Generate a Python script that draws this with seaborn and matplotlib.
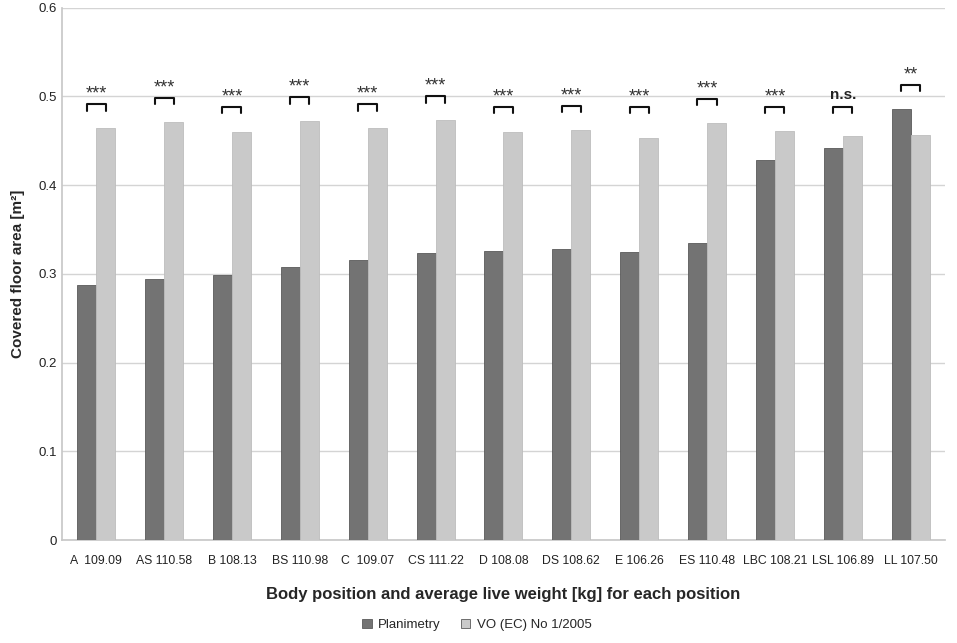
import pandas as pd
import matplotlib
matplotlib.use("Agg")
import matplotlib.pyplot as plt
import seaborn as sns

posiciones = ["A  109.09", "AS 110.58", "B 108.13", "BS 110.98", "C  109.07", "CS 111.22",
              "D 108.08", "DS 108.62", "E 106.26", "ES 110.48", "LBC 108.21", "LSL 106.89",
              "LL 107.50"]
planimetria = [0.288, 0.294, 0.299, 0.308, 0.316, 0.324, 0.326, 0.328, 0.325, 0.335,
               0.428, 0.442, 0.486]
vo_ec = [0.464, 0.471, 0.460, 0.472, 0.464, 0.473, 0.460, 0.462, 0.453, 0.470,
         0.461, 0.455, 0.457]
signif = ["***", "***", "***", "***", "***", "***", "***", "***", "***", "***", "***",
          "n.s.", "**"]
series = ["Planimetry", "VO (EC) No 1/2005"]

df = pd.DataFrame({
    "pos": posiciones * 2,
    "serie": [series[0]] * len(posiciones) + [series[1]] * len(posiciones),
    "area": planimetria + vo_ec,
})

sns.set_theme(style="white")
plt.rcParams["font.family"] = ["Liberation Sans", "DejaVu Sans"]

fig = plt.figure(figsize=(9.57, 6.43), dpi=100)
ax = fig.add_axes([0.065, 0.160, 0.922, 0.828])

sns.barplot(data=df, x="pos", y="area", hue="serie", palette=["#737373", "#c9c9c9"],
            width=0.56, saturation=1, edgecolor="#5a5a5a", linewidth=0.6, ax=ax, zorder=3)
for bar in ax.patches[len(posiciones):2 * len(posiciones)]:
    bar.set_edgecolor("#bdbdbd")

ax.set_ylim(0, 0.6)
ax.set_yticks([0, 0.1, 0.2, 0.3, 0.4, 0.5, 0.6])
ax.set_yticklabels(["0", "0.1", "0.2", "0.3", "0.4", "0.5", "0.6"])
ax.yaxis.grid(True, color="#d4d4d4", linewidth=1, zorder=0)
ax.set_axisbelow(True)
for s in ["top", "right"]:
    ax.spines[s].set_visible(False)
ax.spines["left"].set_color("#c8c8c8")
ax.spines["bottom"].set_color("#c8c8c8")
ax.tick_params(axis="both", length=0, colors="#222222")
ax.tick_params(axis="y", labelsize=9.5)
ax.tick_params(axis="x", labelsize=8.8, pad=11)
for t in ax.get_xticklabels():
    t.set_fontstretch("condensed")
ax.set_xlim(-0.5, len(posiciones) - 0.5)

# corchetes de significancia
off = 0.56 / 4
for i, (p, v, s) in enumerate(zip(planimetria, vo_ec, signif)):
    h = max(0.488, max(p, v) + 0.027)
    ax.plot([i - off, i - off, i + off, i + off], [h - 0.007, h, h, h - 0.007],
            color="#111111", linewidth=1.5, zorder=4)
    if s == "n.s.":
        ax.text(i, h + 0.006, s, ha="center", va="bottom", fontsize=11,
                fontweight="bold", color="#222222")
    else:
        ax.text(i, h + 0.002, s, ha="center", va="bottom", fontsize=13, color="#333333")

ax.set_xlabel("Body position and average live weight [kg] for each position",
              fontsize=12, fontweight="bold", labelpad=14)
ax.set_ylabel("Covered floor area [m²]", fontsize=11, fontweight="bold", labelpad=10)

leg = ax.legend(loc="upper center", bbox_to_anchor=(0.47, -0.125), ncol=2, frameon=False,
                fontsize=9.5, handlelength=0.7, handleheight=0.7, handletextpad=0.5,
                columnspacing=1.5)

fig.savefig("out.png", dpi=100)
